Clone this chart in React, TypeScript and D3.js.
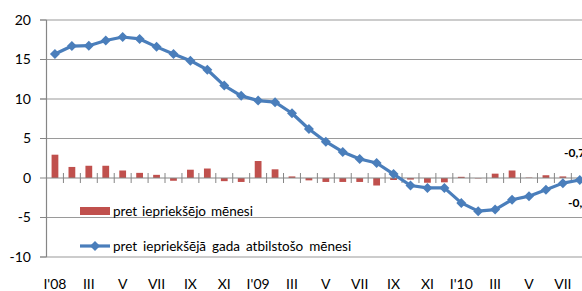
import React from "react";
import * as d3 from "d3";

const months = [
  "I'08","II","III","IV","V","VI","VII","VIII","IX","X","XI","XII",
  "I'09","II","III","IV","V","VI","VII","VIII","IX","X","XI","XII",
  "I'10","II","III","IV","V","VI","VII","VIII",
];
const categories = months.map((m, i) => `${i}:${m}`);
const monthlyChange = [
  2.95, 1.4, 1.55, 1.55, 0.95, 0.65, 0.4, -0.35, 1.05, 1.2, -0.4, -0.5,
  2.15, 1.1, 0.2, -0.3, -0.5, -0.5, -0.5, -0.95, -0.25, -0.2, -0.6, -0.55,
  0.15, -0.05, 0.55, 0.95, 0.05, 0.35, 0.2, -0.1,
];
const annualChange = [
  15.7, 16.7, 16.75, 17.4, 17.85, 17.6, 16.6, 15.7, 14.85, 13.7, 11.7, 10.4,
  9.8, 9.6, 8.2, 6.2, 4.6, 3.3, 2.4, 1.9, 0.5, -0.95, -1.25, -1.25,
  -3.15, -4.2, -4.0, -2.75, -2.3, -1.5, -0.65, -0.25,
];
const yTicks = [-10, -5, 0, 5, 10, 15, 20];
const legendLabels = ["pret iepriekšējo mēnesi", "pret iepriekšējā gada atbilstošo mēnesi"];
const endLabels = ["-0,7", "-0,2"];

const W = 582, H = 291;
const FONT = "Lato, 'Open Sans', sans-serif";
const RED = "#c0504d";
const BLUE = "#4a7ebb";

export default function App() {
  const x = d3.scaleBand<string>().domain(categories).range([46.5, 46.5 + 32 * 16.93]).padding(0);
  const y = d3.scaleLinear().domain([-10, 20]).range([257, 20]);
  const bw = x.bandwidth();
  const cx = (i: number) => (x(categories[i]) as number) + bw / 2;
  const line = d3.line<number>().x((_, i) => cx(i)).y((v) => y(v));
  const diamond = "M0,-5L5,0L0,5L-5,0Z";
  const barW = bw * 0.4;
  const y0 = y(0);

  return (
    <svg width={W} height={H} style={{ position: "absolute", left: 0, top: 0, background: "#fff" }} fontFamily={FONT}>
      {yTicks.filter((t) => t !== 0).map((t) => (
        <line key={t} x1={40} x2={W} y1={y(t)} y2={y(t)} stroke="#9a9a9a" strokeWidth={1.2} />
      ))}
      {yTicks.map((t) => (
        <g key={"l" + t}>
          <line x1={40} x2={46.5} y1={y(t)} y2={y(t)} stroke="#868686" />
          <text x={31} y={y(t)} dy="0.35em" textAnchor="end" fontSize={14} fill="#000">{t}</text>
        </g>
      ))}
      <line x1={46.5} x2={46.5} y1={y(20)} y2={y(-10)} stroke="#868686" strokeWidth={1.2} />
      {monthlyChange.map((v, i) => (
        <rect key={"b" + i} x={cx(i) - barW / 2} width={barW}
          y={Math.min(y(v), y0)} height={Math.abs(y(v) - y0)} fill={RED} />
      ))}
      <line x1={46.5} x2={W} y1={y0} y2={y0} stroke="#868686" strokeWidth={1.2} />
      {categories.map((c, i) => (
        <line key={"t" + i} x1={(x(c) as number) + bw} x2={(x(c) as number) + bw} y1={y0 - 5} y2={y0 + 5} stroke="#868686" />
      ))}
      <path d={line(annualChange) || ""} fill="none" stroke={BLUE} strokeWidth={3.2} strokeLinejoin="round" />
      {annualChange.map((v, i) => (
        <path key={"m" + i} d={diamond} transform={`translate(${cx(i)},${y(v)})`} fill={BLUE} />
      ))}
      {months.map((m, i) => i % 2 === 0 ? (
        <text key={"x" + i} x={cx(i)} y={289} textAnchor="middle" fontSize={14} fill="#000">{m}</text>
      ) : null)}
      <rect x={80} y={207} width={30} height={8} fill={RED} />
      <text x={113} y={216} fontSize={13.5} wordSpacing={1.5} fill="#000">{legendLabels[0]}</text>
      <line x1={80} x2={110} y1={246} y2={246} stroke={BLUE} strokeWidth={3.2} />
      <path d={diamond} transform="translate(95,246)" fill={BLUE} />
      <text x={113} y={251} fontSize={13.5} wordSpacing={2.5} fill="#000">{legendLabels[1]}</text>
      <text x={564} y={157} fontSize={12} fontWeight="bold" fill="#000">{endLabels[0]}</text>
      <text x={568} y={207} fontSize={12} fontWeight="bold" fill="#000">{endLabels[1]}</text>
    </svg>
  );
}
